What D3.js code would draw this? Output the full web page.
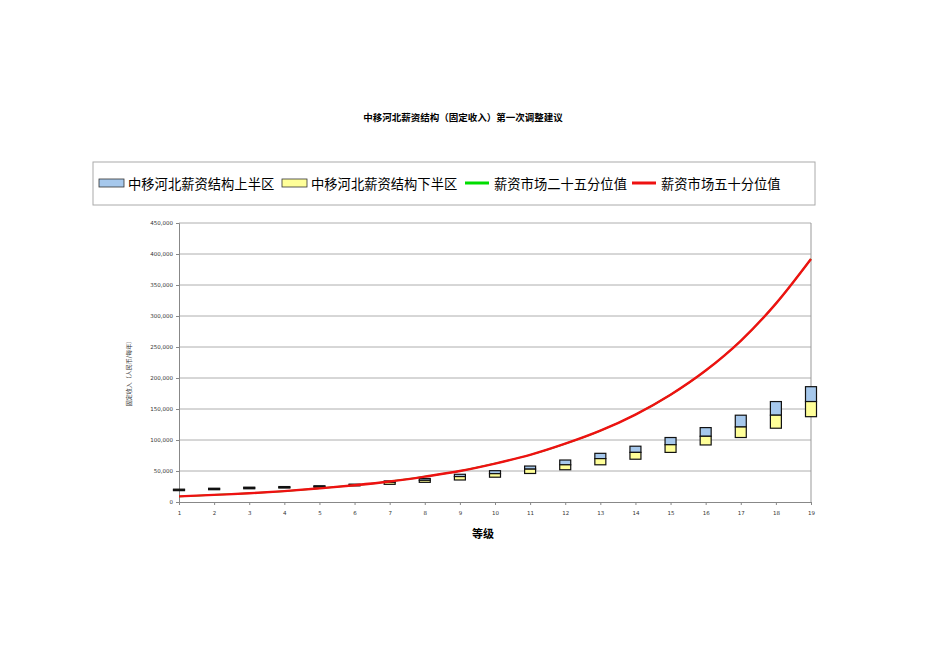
<!DOCTYPE html>
<html><head><meta charset="utf-8">
<script src="https://cdn.jsdelivr.net/npm/d3@7"></script>
<style>body{margin:0;background:#fff;font-family:"Noto Sans CJK SC","DejaVu Sans",sans-serif}</style>
</head><body><svg id="c" width="950" height="672"></svg>
<script>
const levels = d3.range(1, 20);
const lowerBound = [18300,19800,21300,22500,23800,26000,28500,31700,35500,40000,46000,52000,60000,69000,80000,92000,104000,119000,137600];
const midpoint   = [19500,21000,22600,23700,25000,27400,31700,35000,41000,45700,53000,60000,70000,80000,92400,106000,121000,140000,162000];
const upperBound = [20700,22200,23900,24900,26200,28800,34000,38000,44700,50500,58000,67700,78500,90000,104000,120000,140000,162000,186000];
const p25 = [9000,11500,14000,17500,22000,27000,33000,41000,50000,62000,76000,94000,115000,141000,173000,212000,260000,320000,392000];
const p50 = [9000,11500,14000,17500,22000,27000,33000,41000,50000,62000,76000,94000,115000,141000,173000,212000,260000,320000,392000];
const yTicks = d3.range(0, 450001, 50000);

const svg = d3.select('#c');
const x = d3.scaleLinear().domain([1, 19]).range([179, 811]);
const y = d3.scaleLinear().domain([0, 450000]).range([502, 223]);
const fmt = d3.format(',');

svg.append('text').attr('x', 463).attr('y', 121).attr('text-anchor', 'middle')
  .attr('font-size', 9.5).attr('font-weight', 'bold').text('中移河北薪资结构（固定收入）第一次调整建议');

// grid
svg.append('g').selectAll('line').data(yTicks.slice(1)).join('line')
  .attr('x1', 179).attr('x2', 811).attr('y1', d => y(d)).attr('y2', d => y(d))
  .attr('stroke', '#999').attr('stroke-width', 0.8);
svg.append('line').attr('x1', 811).attr('x2', 811).attr('y1', 223).attr('y2', 502).attr('stroke', '#999');

const yAxis = svg.append('g').attr('transform', 'translate(179,0)')
  .call(d3.axisLeft(y).tickValues(yTicks).tickFormat(fmt).tickSize(3));
const xAxis = svg.append('g').attr('transform', 'translate(0,502)')
  .call(d3.axisBottom(x).tickValues(levels).tickFormat(d3.format('d')).tickSize(3));
[yAxis, xAxis].forEach(a => {
  a.selectAll('text').attr('font-size', 5.5).attr('fill', '#333').attr('font-family', 'DejaVu Sans');
  a.selectAll('path,line').attr('stroke', '#888');
});
xAxis.selectAll('text').attr('dy', '1.2em');

svg.append('text').attr('transform', 'translate(131,372) rotate(-90)').attr('text-anchor', 'middle')
  .attr('font-size', 6).attr('fill', '#333').text('固定收入（人民币/每年）');
svg.append('text').attr('x', 483).attr('y', 538).attr('text-anchor', 'middle')
  .attr('font-size', 11).attr('font-weight', 'bold').text('等级');

const bw = 11;
const boxes = svg.append('g');
levels.forEach((lv, i) => {
  boxes.append('rect').attr('x', x(lv) - bw / 2).attr('y', y(upperBound[i])).attr('width', bw)
    .attr('height', y(midpoint[i]) - y(upperBound[i])).attr('fill', '#a6c8ec').attr('stroke', '#111').attr('stroke-width', 1.2);
  boxes.append('rect').attr('x', x(lv) - bw / 2).attr('y', y(midpoint[i])).attr('width', bw)
    .attr('height', y(lowerBound[i]) - y(midpoint[i])).attr('fill', '#ffff99').attr('stroke', '#111').attr('stroke-width', 1.2);
});

const line = arr => d3.line().x((d, i) => x(levels[i])).y(d => y(d)).curve(d3.curveMonotoneX)(arr);
svg.append('path').attr('d', line(p25)).attr('fill', 'none').attr('stroke', '#00dd00').attr('stroke-width', 1.5);
svg.append('path').attr('d', line(p50)).attr('fill', 'none').attr('stroke', '#ee1111').attr('stroke-width', 2.4);

// legend
const lg = svg.append('g');
lg.append('rect').attr('x', 93).attr('y', 162).attr('width', 722).attr('height', 43)
  .attr('fill', '#fff').attr('stroke', '#aaa');
const items = [
  {t: '中移河北薪资结构上半区', c: '#a6c8ec', box: true, x: 99},
  {t: '中移河北薪资结构下半区', c: '#ffff99', box: true, x: 282},
  {t: '薪资市场二十五分位值', c: '#00dd00', box: false, x: 465},
  {t: '薪资市场五十分位值', c: '#ee1111', box: false, x: 632}
];
items.forEach(d => {
  if (d.box) lg.append('rect').attr('x', d.x).attr('y', 179).attr('width', 25).attr('height', 8)
    .attr('fill', d.c).attr('stroke', '#333').attr('stroke-width', 0.8);
  else lg.append('line').attr('x1', d.x).attr('x2', d.x + 24).attr('y1', 183).attr('y2', 183)
    .attr('stroke', d.c).attr('stroke-width', 3);
  lg.append('text').attr('x', d.x + 29).attr('y', 189).attr('font-size', 13.3).text(d.t);
});
</script></body></html>
